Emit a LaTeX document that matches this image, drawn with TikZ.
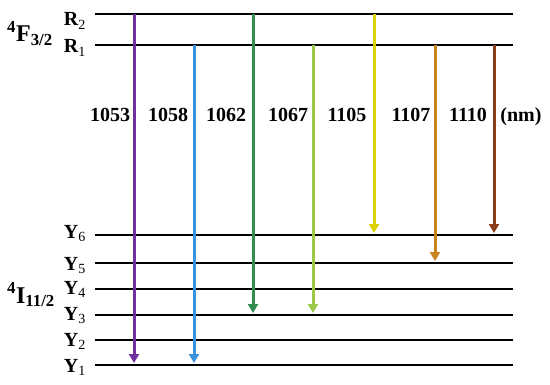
\documentclass[tikz,border=0pt]{standalone}
\usepackage{fontspec}
\setmainfont{Liberation Serif}
\usetikzlibrary{arrows.meta}
\definecolor{c1053}{RGB}{112,48,160}
\definecolor{c1058}{RGB}{58,145,220}
\definecolor{c1062}{RGB}{50,140,80}
\definecolor{c1067}{RGB}{155,200,70}
\definecolor{c1105}{RGB}{220,210,0}
\definecolor{c1107}{RGB}{200,130,30}
\definecolor{c1110}{RGB}{140,60,25}
\tikzset{
  level/.style={line width=2.3pt,black},
  trans/.style={line width=3pt,-{Triangle[width=10pt,length=9pt]},shorten >=2pt},
  lvlabel/.style={anchor=base east,inner sep=0pt,font=\fontsize{20}{20}\selectfont\bfseries},
  wl/.style={anchor=base,inner sep=0pt,font=\fontsize{20}{20}\selectfont\bfseries},
  term/.style={anchor=base west,inner sep=0pt,font=\fontsize{24}{24}\selectfont\bfseries}
}
\newcommand{\sbm}[1]{\textsubscript{\mdseries #1}}
\begin{document}
\begin{tikzpicture}[x=1pt,y=1pt]
\useasboundingbox (0,0) rectangle (550,384);
% level coordinates
\foreach \n/\y in {R2/370,R1/339,Y6/149,Y5/121,Y4/95,Y3/69,Y2/44,Y1/19}{
  \coordinate (\n L) at (95,\y);
  \coordinate (\n R) at (513,\y);
  \draw[level] (\n L) -- (\n R);
}
% labels
\node[lvlabel] (lR2) at (86,358) {R\sbm{2}};
\node[lvlabel] (lR1) at (86,331) {R\sbm{1}};
\node[lvlabel] (lY6) at (86,146) {Y\sbm{6}};
\node[lvlabel] (lY5) at (86,114) {Y\sbm{5}};
\node[lvlabel] (lY4) at (86,90) {Y\sbm{4}};
\node[lvlabel] (lY3) at (86,64) {Y\sbm{3}};
\node[lvlabel] (lY2) at (86,38) {Y\sbm{2}};
\node[lvlabel] (lY1) at (86,12) {Y\sbm{1}};
\node[term] (tF) at (7,342) {\textsuperscript{4}F\textsubscript{3/2}};
\node[term] (tI) at (7,81) {\textsuperscript{4}I\textsubscript{11/2}};
% transitions
\foreach \x/\a/\b/\c in {134/R2/Y1/c1053,194/R1/Y1/c1058,253/R2/Y3/c1062,313/R1/Y3/c1067,374/R2/Y6/c1105,435/R1/Y5/c1107,494/R1/Y6/c1110}{
  \coordinate (s\x) at (\x,0 |- \a L);
  \coordinate (e\x) at (\x,0 |- \b L);
  \draw[trans,draw=\c,fill=\c] (s\x) -- (e\x);
}
% wavelengths
\node[wl] (w1) at (110,262) {1053};
\node[wl] (w2) at (168,262) {1058};
\node[wl] (w3) at (226,262) {1062};
\node[wl] (w4) at (288,262) {1067};
\node[wl] (w5) at (347,262) {1105};
\node[wl] (w6) at (411,262) {1107};
\node[wl] (w7) at (468,262) {1110};
\node[wl] (w8) at (521,262) {(nm)};
\end{tikzpicture}
\end{document}
